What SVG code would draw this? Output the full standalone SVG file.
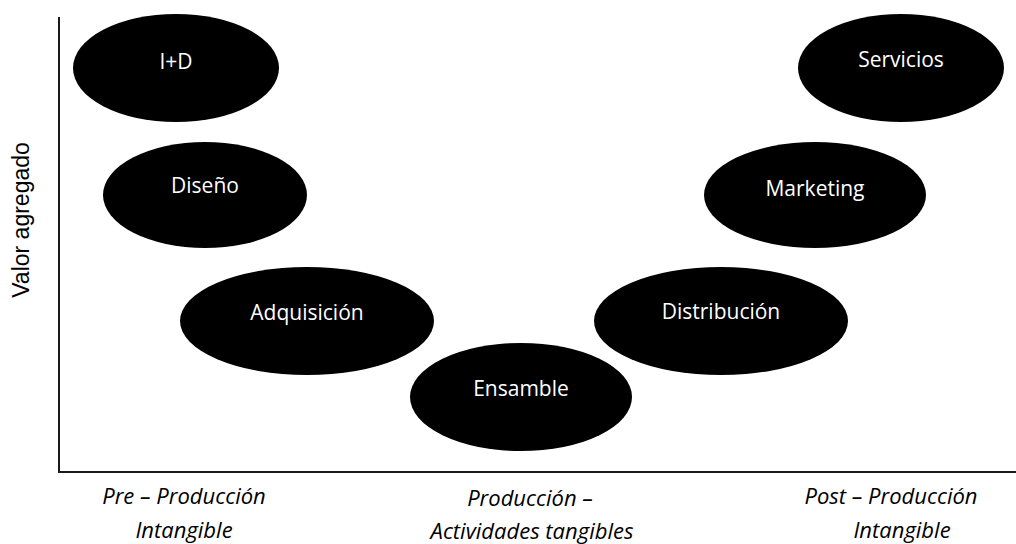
<svg xmlns="http://www.w3.org/2000/svg" width="1016" height="544" viewBox="0 0 1016 544">
<style>
.node ellipse{fill:#000}
.node text{fill:#fff;font-family:"Open Sans","Liberation Sans",sans-serif;font-size:21px;text-anchor:middle}
.axis{stroke:#1a1a1a;stroke-width:2;fill:none}
.cat{font-family:"Open Sans","Liberation Sans",sans-serif;font-style:italic;font-size:22px;fill:#000;text-anchor:middle}
.ylab{font-family:"Liberation Sans",Arial,sans-serif;font-size:23px;fill:#000;text-anchor:middle}
</style>
<rect width="1016" height="544" fill="#fff"/>
<g id="axes">
<path class="axis" d="M59 17 V472 H1016"/>
<text class="ylab" transform="translate(29 220) rotate(-90)">Valor agregado</text>
</g>
<g id="connectors"></g>
<g id="node-id" class="node"><ellipse cx="176" cy="68" rx="103" ry="54"/><text x="176" y="69">I+D</text></g>
<g id="node-diseno" class="node"><ellipse cx="205" cy="195" rx="102" ry="53"/><text x="205" y="193">Diseño</text></g>
<g id="node-adquisicion" class="node"><ellipse cx="307" cy="321" rx="127" ry="54"/><text x="307" y="320">Adquisición</text></g>
<g id="node-ensamble" class="node"><ellipse cx="521" cy="397" rx="111" ry="54"/><text x="521" y="396">Ensamble</text></g>
<g id="node-distribucion" class="node"><ellipse cx="721" cy="321" rx="127" ry="54"/><text x="721" y="319">Distribución</text></g>
<g id="node-marketing" class="node"><ellipse cx="815" cy="195" rx="111" ry="53"/><text x="815" y="196">Marketing</text></g>
<g id="node-servicios" class="node"><ellipse cx="901" cy="68" rx="103" ry="54"/><text x="901" y="67">Servicios</text></g>
<g id="categories">
<text class="cat" x="184" y="504">Pre – Producción</text>
<text class="cat" x="184" y="538">Intangible</text>
<text class="cat" x="530" y="506">Producción –</text>
<text class="cat" x="532" y="539">Actividades tangibles</text>
<text class="cat" x="891" y="504">Post – Producción</text>
<text class="cat" x="902" y="538">Intangible</text>
</g>
</svg>
